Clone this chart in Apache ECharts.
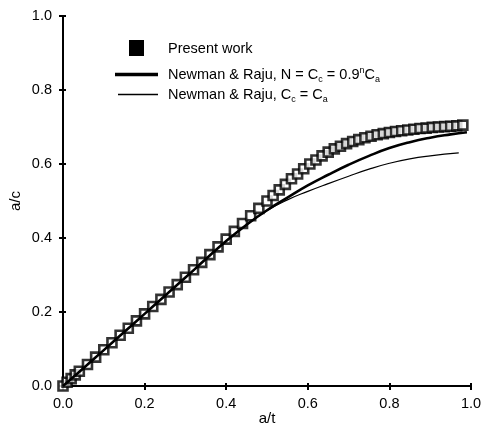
<!DOCTYPE html>
<html lang="en">
<head>
    <meta charset="UTF-8">
    <script src="https://cdn.jsdelivr.net/npm/echarts@6/dist/echarts.min.js"></script>
    <title>a/c vs a/t</title>
    <style>
        body { margin: 0; background: #fff; }
    </style>
</head>
<body>
<div id="main" style="width: 481px;height:427px;"></div>
<script type="text/javascript">
    // 数据
    var presentX = [0.00, 0.01, 0.02, 0.03, 0.04, 0.06, 0.08, 0.10, 0.12, 0.14, 0.16, 0.18, 0.20, 0.22, 0.24, 0.26, 0.28, 0.30,
        0.32, 0.34, 0.36, 0.38, 0.40, 0.42, 0.44, 0.46, 0.48, 0.50, 0.515, 0.53, 0.545, 0.56, 0.575, 0.59, 0.605, 0.62,
        0.635, 0.65, 0.665, 0.68, 0.695, 0.71, 0.725, 0.74, 0.755, 0.77, 0.785, 0.80, 0.815, 0.83, 0.845, 0.86, 0.875,
        0.89, 0.905, 0.92, 0.935, 0.95, 0.965, 0.98];
    var presentY = [0.000, 0.010, 0.020, 0.030, 0.040, 0.058, 0.078, 0.098, 0.117, 0.137, 0.156, 0.176, 0.195, 0.215, 0.234, 0.254, 0.274, 0.294,
        0.314, 0.334, 0.355, 0.376, 0.397, 0.418, 0.439, 0.460, 0.480, 0.500, 0.515, 0.530, 0.545, 0.560, 0.573, 0.587, 0.600, 0.611,
        0.622, 0.632, 0.641, 0.648, 0.655, 0.661, 0.666, 0.671, 0.675, 0.679, 0.682, 0.685, 0.688, 0.690, 0.692, 0.694, 0.696,
        0.697, 0.699, 0.700, 0.701, 0.702, 0.703, 0.705];

    var nrX = [0.00, 0.05, 0.10, 0.15, 0.20, 0.25, 0.30, 0.35, 0.40, 0.45, 0.50, 0.55, 0.60, 0.65, 0.70, 0.75, 0.80, 0.85, 0.90, 0.95, 0.99];
    var nrNY = [0.000, 0.048, 0.097, 0.146, 0.195, 0.244, 0.293, 0.343, 0.392, 0.436, 0.475, 0.509, 0.542, 0.571, 0.598, 0.622, 0.643, 0.659, 0.671, 0.680, 0.686];

    var nrCX = [0.00, 0.05, 0.10, 0.15, 0.20, 0.25, 0.30, 0.35, 0.40, 0.45, 0.50, 0.55, 0.60, 0.65, 0.70, 0.75, 0.80, 0.85, 0.90, 0.97];
    var nrCY = [0.000, 0.048, 0.097, 0.146, 0.195, 0.244, 0.293, 0.343, 0.392, 0.436, 0.474, 0.503, 0.526, 0.547, 0.567, 0.586, 0.602, 0.614, 0.622, 0.630];

    var tickLabels = ['0.0', '0.2', '0.4', '0.6', '0.8', '1.0'];

    function pairs(xs, ys) {
        var out = [];
        for (var i = 0; i < xs.length; i++) {
            out.push([xs[i], ys[i]]);
        }
        return out;
    }

    var font = '"Liberation Sans", Arial, sans-serif';

    var myChart = echarts.init(document.getElementById('main'), null, {renderer: 'canvas'});

    var axisCommon = {
        min: 0,
        max: 1,
        interval: 0.2,
        splitLine: {show: false},
        axisLine: {show: true, onZero: false, lineStyle: {color: '#000', width: 2}},
        axisTick: {show: true, length: 4, lineStyle: {color: '#000', width: 2}},
        nameTextStyle: {color: '#000', fontSize: 15, fontFamily: font},
        nameMoveOverlap: false,
        axisLabel: {
            color: '#000', fontSize: 14.5, fontFamily: font,
            formatter: function (v) { return tickLabels[Math.round(v / 0.2)]; }
        }
    };

    var option = {
        animation: false,
        backgroundColor: '#fff',
        grid: {left: 63, right: 10, top: 16, bottom: 41, containLabel: false, outerBoundsMode: 'none'},
        xAxis: [
            Object.assign({}, axisCommon, {
                type: 'value', name: 'a/t', nameLocation: 'middle', nameGap: 25,
                axisLabel: Object.assign({}, axisCommon.axisLabel, {margin: 10})
            }),
            Object.assign({}, axisCommon, {
                type: 'value', position: 'bottom',
                axisTick: {show: true, inside: true, length: 3, lineStyle: {color: '#000', width: 2}},
                axisLabel: {show: false}
            })
        ],
        yAxis: [
            Object.assign({}, axisCommon, {
                type: 'value', name: 'a/c', nameLocation: 'middle', nameGap: 40,
                axisLabel: Object.assign({}, axisCommon.axisLabel, {margin: 11})
            }),
            Object.assign({}, axisCommon, {
                type: 'value', position: 'left',
                axisTick: {show: true, inside: true, length: 3, lineStyle: {color: '#000', width: 2}},
                axisLabel: {show: false}
            })
        ],
        series: [
            {
                name: 'Newman & Raju, Cc = Ca',
                type: 'line',
                data: pairs(nrCX, nrCY),
                smooth: true,
                showSymbol: false,
                lineStyle: {color: '#000', width: 1.2}
            },
            {
                name: 'Newman & Raju, N = Cc = 0.9nCa',
                type: 'line',
                data: pairs(nrX, nrNY),
                smooth: true,
                showSymbol: false,
                lineStyle: {color: '#000', width: 2.6}
            },
            {
                name: 'Present work',
                type: 'scatter',
                data: pairs(presentX, presentY),
                symbol: 'rect',
                symbolSize: 9,
                itemStyle: {color: '#fff', borderColor: '#000', borderWidth: 2.6}
            }
        ],
        graphic: [
            {type: 'rect', left: 129, top: 40, shape: {width: 15, height: 16}, style: {fill: '#000'}},
            {
                type: 'text', x: 168, y: 49,
                style: {text: 'Present work', fill: '#000', font: '14.5px ' + font, verticalAlign: 'middle'}
            },
            {type: 'line', shape: {x1: 115, y1: 74.5, x2: 158, y2: 74.5}, style: {stroke: '#000', lineWidth: 3.5}},
            {
                type: 'text', x: 168, y: 75,
                style: {
                    text: 'Newman & Raju, N = C{sub|c} = 0.9{sup|n}C{sub|a}',
                    fill: '#000', font: '14.5px ' + font, lineHeight: 18, verticalAlign: 'middle',
                    rich: {
                        sub: {fontSize: 9, fontFamily: font, verticalAlign: 'bottom', lineHeight: 10},
                        sup: {fontSize: 9, fontFamily: font, verticalAlign: 'top', lineHeight: 10}
                    }
                }
            },
            {type: 'line', shape: {x1: 118, y1: 94.5, x2: 158, y2: 94.5}, style: {stroke: '#000', lineWidth: 1.3}},
            {
                type: 'text', x: 168, y: 95,
                style: {
                    text: 'Newman & Raju, C{sub|c} = C{sub|a}',
                    fill: '#000', font: '14.5px ' + font, lineHeight: 18, verticalAlign: 'middle',
                    rich: {
                        sub: {fontSize: 9, fontFamily: font, verticalAlign: 'bottom', lineHeight: 10}
                    }
                }
            }
        ]
    };

    myChart.setOption(option);
</script>
</body>
</html>
